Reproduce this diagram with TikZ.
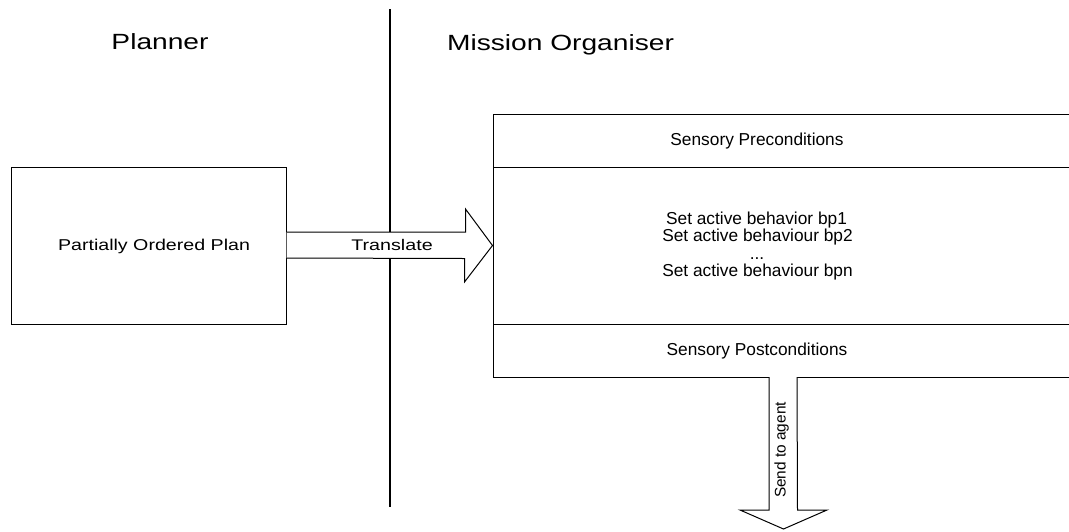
\documentclass[tikz,border=0pt]{standalone}
\usepackage{fontspec}
\setmainfont{Liberation Sans}
\begin{document}
\begin{tikzpicture}[x=1pt,y=-1pt,line join=miter,
  frame/.style={draw=black,line width=1pt,fill=none,inner sep=0pt},
  blockarrow/.style={draw=black,line width=1pt,fill=white},
  txt/.style={inner sep=0pt,anchor=base},
  title/.style={txt,font=\fontsize{22}{24}\selectfont},
  boxtext/.style={txt,font=\fontsize{17.3}{18}\selectfont},
]
\useasboundingbox (0,0) rectangle (1069,531);

% boundary between the two columns
\coordinate (divtop) at (390,9);
\coordinate (divbot) at (390,507);
\draw[line width=2pt] (divtop) -- (divbot);

% column headings
\node[title] (planner) at (160,49.3) {\scalebox{1.28}[1]{Planner}};
\node[title] (organiser) at (560.5,50) {\scalebox{1.28}[1]{Mission Organiser}};

% planner output
\node[frame,minimum width=275pt,minimum height=157pt] (plan) at (148.5,245.5) {};
\node[txt,font=\fontsize{15.7}{18}\selectfont] (plantext) at (154,250)
  {\scalebox{1.25}[1]{Partially Ordered Plan}};

% mission structure (runs on past the right margin)
\node[frame,minimum width=620pt,minimum height=263pt] (mission) at (803,245.5) {};
\coordinate (d1w) at (493,167);
\coordinate (d2w) at (493,324);
\draw[line width=1pt] (d1w) -- (d1w -| mission.east);
\draw[line width=1pt] (d2w) -- (d2w -| mission.east);

\node[boxtext] (pre) at (757,145.7) {Sensory Preconditions};
\node[boxtext] (b1) at (756.5,224) {Set active behavior bp1};
\node[boxtext] (b2) at (757.5,241.7) {Set active behaviour bp2};
\node[boxtext] (b3) at (757,259) {...};
\node[boxtext] (b4) at (757.5,276.7) {Set active behaviour bpn};
\node[boxtext] (post) at (757,355) {Sensory Postconditions};

% translate arrow from plan to mission
\draw[blockarrow]
  ([yshift=13.5pt]plan.east) -- ++(179,0) -- ++(0,-23) -- (mission.west)
  -- ([xshift=-28pt,yshift=-36.5pt]mission.west) -- ++(0,-23.5) -- ([yshift=-12.5pt]plan.east);
\node[txt,font=\fontsize{15.4}{18}\selectfont] (translate) at (392,250)
  {\scalebox{1.28}[1]{Translate}};

% send-to-agent arrow leaving the mission box
\coordinate (agent) at (783.5,529);
\coordinate (sendtop) at (783.5,377);
\draw[blockarrow]
  ([xshift=-14.5pt]sendtop) -- ++(0,133) -- ++(-29,0) -- (agent)
  -- ([xshift=43.5pt,yshift=19pt]agent) -- ++(-29.5,0) -- ([xshift=13.5pt]sendtop);
\node[txt,rotate=90,font=\fontsize{15.4}{18}\selectfont] (send) at (785.5,450) {Send to agent};
\end{tikzpicture}
\end{document}
